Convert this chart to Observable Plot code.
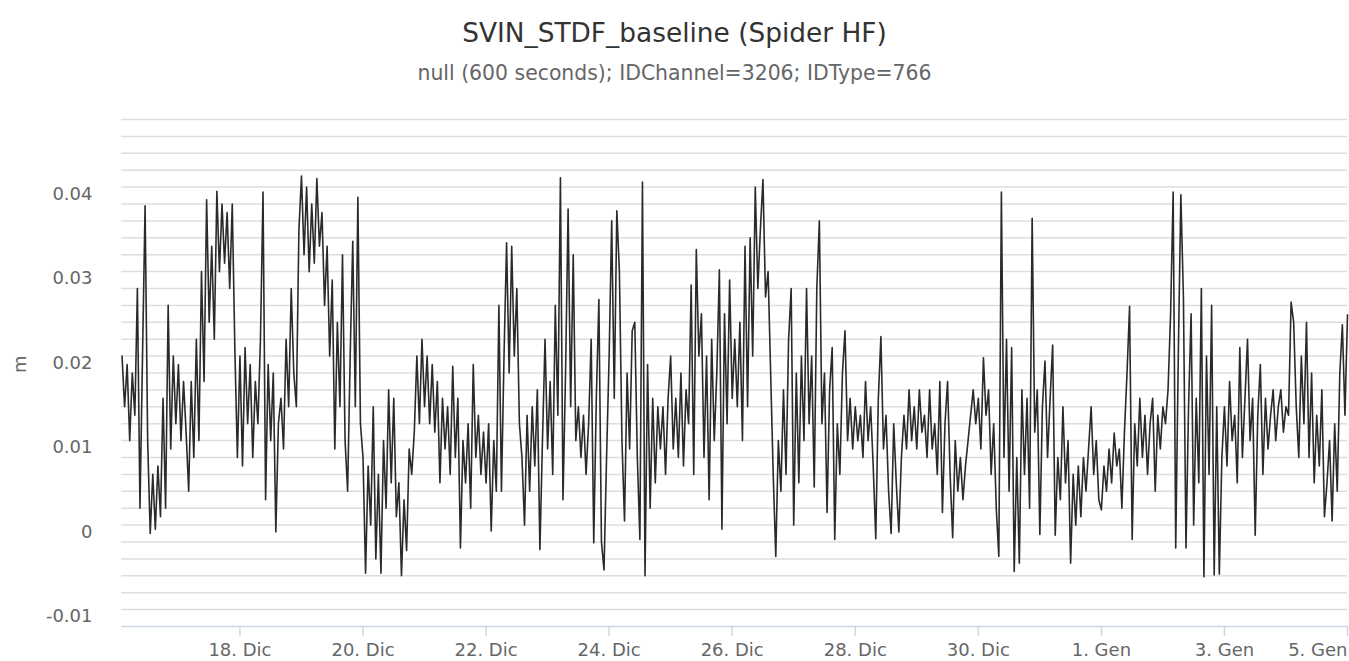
<!DOCTYPE html>
<html>
<head>
<meta charset="utf-8">
<script src="https://cdn.jsdelivr.net/npm/d3@7"></script>
<script src="https://cdn.jsdelivr.net/npm/@observablehq/plot@0.6"></script>
<style>
  html, body { margin: 0; padding: 0; background: #fff; }
  #wrap { position: relative; width: 1349px; height: 661px; overflow: hidden; font-family: "DejaVu Sans", sans-serif; }
  #head { position: relative; width: 1349px; height: 100px; }
  #title { position: absolute; top: 0; left: 0; width: 1349px; text-align: center; font-size: 26.4px; line-height: 66px; color: #333333; white-space: nowrap; }
  #subtitle { position: absolute; top: 50px; left: 0; width: 1349px; text-align: center; font-size: 20.4px; line-height: 46px; color: #666666; white-space: nowrap; }
  #chart svg { display: block; }
</style>
</head>
<body>
<div id="wrap">
  <div id="head">
    <div id="title">SVIN_STDF_baseline (Spider HF)</div>
    <div id="subtitle">null (600 seconds); IDChannel=3206; IDType=766</div>
  </div>
  <div id="chart"></div>
</div>
<script>
// Series: hourly readings (values in millimetres, plotted in metres), from 16 Dic 02:00
const seriesStart = "2019-12-16T02:00:00Z";
const seriesStepHours = 1;
const baselineMm = [
  20,14,19,10,18,13,28,2,20,37.8,10,-1,6,-0.5,7,
  1,15,2,26,9,20,12,19,10,17,11,4,17,8,22,
  10,30,17,38.5,24,33,22,39.5,30,38,31,37,28,38,21,
  8,20,7,21,12,19,8,17,12,22,39.4,3,19,10,18,
  -0.8,12,15,9,22,14,28,18,14,35,41.3,32,40,30,38,
  31,41,33,37,26,33,20,29,9,24,14,32,10,4,20,
  33.6,14,38.8,12,8,-5.7,7,0,14,-4,6,-5.7,10,2,16,
  5,15,1,5,-6,3,-3,9,6,11,
  20,12,22,14,20,12,19,11,17,5,15,9,14,6,18.8,
  8,15,-2.7,10,5,12,2,19,8,13,6,11,5,12,-0.7,
  10,4,26,4,20,33.4,18,33,20,28,12,8,0,13,4,
  14,7,16,-2.9,10,22,9,17,6,26,13,41.1,3,18,37.4,
  14,32,10,14,8,13,6,12,22,-2.1,15,26.7,-2,-5.3,8,
  20,36,15,37.2,30,10,0.5,18,9,23,24,8,-1.7,40.6,-6,
  19,2,15,5,14,9,14,6,15,20,9,15,8,18,7,
  16,12,28.4,6,32.6,20,
  25,8,20,3,22,10,18,30.2,-0.5,25,12,29,15,22,14,
  24,10,33,14,34,20,40,28,35,40.9,27,30,18,6,-3.7,
  10,4,16,6,22,28,0,18,5,20,10,28,12,20,4.5,
  28,36,12,18,1.5,16,21,-1.7,12,6,18,23,10,15,9,
  14,10,13,8,17,10,14,7,-1.6,15,22.3,9,13,4,-1,
  12,5,-0.8,8,13,9,16,10,14,9,16,11,13,8,16,
  9,12,6,17,1.5,12,17,6,-1.5,10,4,8,3,7,10,
  13,16,12,15,9,19.8,13,16,6,12,2,-3.7,39.4,8,22,
  4,21,-5.5,8,-4.5,
  16,6,15,2,36.3,11,16,-1.1,14,19.4,8,15,21.3,-1.2,8,
  3,14,5,10,-4.5,6,0,7,1,8,4,9,14,6,10,
  3,1.8,7,4,9,5,10.9,7,9,2,11,18,25.9,-1.7,12,
  7,15,8,13,6,12,15,4,13,9,14,12,16,25,39.4,
  -2.7,20,39.1,27,-2.7,14,25,0,15,5,28,-6.1,20,6,26,
  -5.9,14,-5.8,8,14,7,17,10,13,5,21,8,15,22,10,
  15,-1.2,13,19,6,15,9,13,16,10,14,16,11,14,13,
  26.4,24,14,8,20,12,24,8,18,5,13,7,16,1,5,
  10,0.5,12,4,18,23.7,13,24.9
];

// Axis definitions
const xDomain = ["2019-12-16T01:48:00Z", "2020-01-05T00:00:00Z"];
const xTickDates = ["2019-12-18","2019-12-20","2019-12-22","2019-12-24","2019-12-26","2019-12-28","2019-12-30","2020-01-01","2020-01-03","2020-01-05"];
const xTickLabels = ["18. Dic","20. Dic","22. Dic","24. Dic","26. Dic","28. Dic","30. Dic","1. Gen","3. Gen","5. Gen"];
const yDomain = [-0.012, 0.048];
const yTicks = [-0.01, 0, 0.01, 0.02, 0.03, 0.04];
const yTickLabels = ["-0.01", "0", "0.01", "0.02", "0.03", "0.04"];
const yMinorStep = 0.002;
const yAxisTitle = "m";

const t0 = new Date(seriesStart).getTime();
const table = baselineMm.map((mm, i) => ({
  time: new Date(t0 + i * seriesStepHours * 3600e3),
  value: mm / 1000
}));
const gridTicks = d3.range(Math.round(yTicks[0] / yMinorStep), Math.round(yDomain[1] / yMinorStep) + 1).map(k => +(k * yMinorStep).toFixed(4));
const xTicks = xTickDates.map(d => new Date(d + "T00:00:00Z"));
const xLabelOf = new Map(xTicks.map((d, i) => [+d, xTickLabels[i]]));
const yLabelOf = new Map(yTicks.map((v, i) => [v, yTickLabels[i]]));

const chart = Plot.plot({
  width: 1349,
  height: 561,
  marginTop: 19,
  marginBottom: 35,
  marginLeft: 121,
  marginRight: 2,
  style: { fontFamily: "DejaVu Sans, sans-serif", fontSize: "18px", color: "#666666", background: "#ffffff" },
  x: { type: "utc", domain: xDomain.map(d => new Date(d)) },
  y: { domain: yDomain },
  marks: [
    Plot.gridY(gridTicks, { stroke: "#dedede", strokeOpacity: 1, strokeWidth: 1.5 }),
    Plot.ruleY([yDomain[0]], { stroke: "#ccd6eb", strokeWidth: 1.5 }),
    Plot.axisY(yTicks, {
      tickSize: 0, tickPadding: 29, dy: 7, label: null,
      fill: "#666666", fontSize: 18,
      tickFormat: v => yLabelOf.get(v)
    }),
    Plot.axisX(xTicks.slice(0, -1), {
      tickSize: 10, tickPadding: 7, stroke: "#ccd6eb", strokeWidth: 1.5, label: null,
      fill: "#666666", fontSize: 18,
      tickFormat: d => xLabelOf.get(+d)
    }),
    Plot.axisX(xTicks.slice(-1), {
      tickSize: 10, tickPadding: 7, stroke: "#ccd6eb", strokeWidth: 1.5, label: null,
      fill: "#666666", fontSize: 18, textAnchor: "end",
      tickFormat: d => xLabelOf.get(+d)
    }),
    Plot.lineY(table, { x: "time", y: "value", stroke: "#2a2a2a", strokeWidth: 1.6 }),
    Plot.text([yAxisTitle], { frameAnchor: "left", dx: -101, rotate: -90, fill: "#666666", fontSize: 18, text: d => d })
  ]
});
document.getElementById("chart").appendChild(chart);
</script>
</body>
</html>
